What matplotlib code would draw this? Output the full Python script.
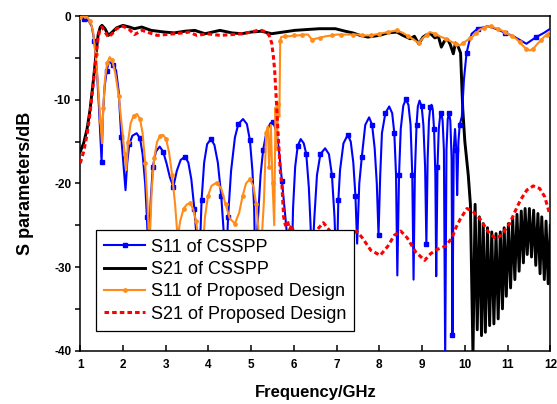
import matplotlib
matplotlib.use("Agg")
import matplotlib.pyplot as plt

plt.rcParams["font.family"] = ["Liberation Sans", "DejaVu Sans"]
plt.rcParams["axes.unicode_minus"] = False

# S11 of CSSPP (blue, squares)
s11_cs_f = [1.0, 1.1, 1.2, 1.27, 1.33, 1.39, 1.44, 1.5, 1.53, 1.57, 1.62, 1.66, 1.7, 1.77, 1.84,
            1.9, 1.96, 2.06, 2.1, 2.15, 2.22, 2.32, 2.4, 2.46, 2.52, 2.56, 2.6, 2.65, 2.7, 2.77,
            2.86, 2.94, 3.02, 3.1, 3.18, 3.26, 3.35, 3.45, 3.53, 3.6, 3.67, 3.73, 3.78, 3.84, 3.9,
            3.97, 4.06, 4.14, 4.22, 4.3, 4.36, 4.4, 4.46, 4.53, 4.62, 4.7, 4.81, 4.9, 4.97, 5.03,
            5.07, 5.1, 5.15, 5.22, 5.28, 5.36, 5.45, 5.52, 5.6, 5.66, 5.72, 5.8, 5.87, 5.94, 5.98,
            6.03, 6.09, 6.16, 6.23, 6.29, 6.35, 6.39, 6.42, 6.48, 6.54, 6.62, 6.73, 6.82, 6.89, 6.95,
            7.0, 7.04, 7.08, 7.16, 7.26, 7.33, 7.39, 7.44, 7.48, 7.53, 7.59, 7.67, 7.76, 7.83, 7.89,
            7.94, 7.98, 8.02, 8.06, 8.14, 8.23, 8.3, 8.35, 8.39, 8.42, 8.46, 8.5, 8.56, 8.62, 8.68,
            8.73, 8.77, 8.8, 8.83, 8.87, 8.9, 8.94, 8.99, 9.03, 9.07, 9.1, 9.13, 9.16, 9.19, 9.22,
            9.25, 9.28, 9.31, 9.33, 9.36, 9.39, 9.42, 9.45, 9.48, 9.51, 9.54, 9.57, 9.6, 9.63, 9.66,
            9.69, 9.71, 9.74, 9.77, 9.8, 9.82, 9.85, 9.88, 9.93, 9.98, 10.04, 10.1, 10.16, 10.3, 10.54,
            10.72, 10.95, 11.17, 11.44, 11.67, 11.85, 12.0]
s11_cs_db = [-0.2, -0.3, -0.6, -1.2, -3.0, -6.5, -11, -17.4, -12, -8.5, -6.5, -5.7, -5.5, -5.8, -6.5,
             -9, -14.4, -20.8, -17.5, -15.3, -14.3, -14.0, -14.6, -16.5, -20, -24, -29, -22, -18, -16.2,
             -15.6, -16.2, -17.6, -19.3, -20.4, -18.5, -17.2, -16.8, -17.5, -19.5, -23, -27, -31, -22, -17.5,
             -15.3, -14.7, -15.4, -17.5, -21.5, -26, -32, -24, -18.5, -14.5, -12.9, -12.3, -12.9, -14.8, -18.5,
             -23, -31, -25, -19, -16, -13.8, -12.8, -12.7, -14, -16.5, -19.7, -24, -28, -32, -23,
             -18, -15.5, -14.7, -15.2, -16.5, -20.5, -25, -30, -24, -19, -16.5, -15.8, -16.5, -19, -24,
             -31, -22, -18.4, -15.2, -14.2, -15, -17.5, -21.5, -27.2, -20, -16.8, -13, -12.1, -13, -15.8,
             -20, -26.2, -19, -14.0, -11.6, -10.8, -11.6, -14, -19, -31, -19, -13.5, -10.7, -9.95, -10.6,
             -13, -19, -31.5, -19, -13, -10.8, -10.1, -10.8, -13, -18, -27.2, -17, -12.5, -10.9, -10.6,
             -11.2, -13.5, -19, -31.1, -18, -13.5, -12, -11.6, -12.5, -16, -41, -16, -12.3, -11.6, -12.5,
             -17, -38.1, -16, -13.5, -16, -21.4, -15, -13, -12, -7.5, -4.4, -3.1, -2.1, -1.5, -1.2,
             -1.5, -2.0, -2.5, -3.3, -2.5, -2.0, -1.5]

# S21 of CSSPP (black)
s21_cs_f = [1.0, 1.08, 1.16, 1.23, 1.29, 1.34, 1.38, 1.42, 1.47, 1.51, 1.58, 1.66, 1.75, 1.85, 2.0,
            2.15, 2.27, 2.44, 2.66, 2.97, 3.2, 3.45, 3.68, 3.92, 4.27, 4.55, 4.78, 5.0, 5.24, 5.48,
            5.75, 6.02, 6.3, 6.6, 6.97, 7.2, 7.38, 7.55, 7.73, 8.0, 8.2, 8.41, 8.55, 8.72, 8.82,
            8.92, 9.02, 9.11, 9.2, 9.3, 9.38, 9.45, 9.52, 9.6, 9.66, 9.73, 9.78, 9.84, 9.9, 9.95,
            10.0, 10.08, 10.13, 10.19,
            10.24, 10.29, 10.34, 10.39, 10.43, 10.48, 10.53, 10.58, 10.63, 10.68, 10.73, 10.78,
            10.83, 10.88, 10.92, 10.97, 11.02, 11.07, 11.12, 11.17, 11.22, 11.27, 11.32, 11.37,
            11.41, 11.46, 11.51, 11.56, 11.61, 11.66, 11.71, 11.76, 11.80, 11.86, 11.90, 11.95, 12.0]
s21_cs_db = [-16.2, -15.2, -13.5, -11.2, -8.5, -6.1, -4.0, -2.2, -1.3, -1.1, -1.5, -2.3, -1.9, -1.4, -1.1,
             -1.3, -1.5, -1.3, -1.7, -1.9, -2.0, -1.8, -1.7, -2.1, -1.7, -2.0, -2.1, -1.9, -1.8, -2.1,
             -1.9, -1.7, -1.6, -1.5, -1.5, -1.8, -2.0, -2.3, -2.5, -2.3, -2.0, -1.9, -2.3, -2.7, -2.4,
             -3.3, -2.5, -2.2, -2.1, -2.6, -2.4, -3.7, -3.0, -2.8, -3.4, -4.5, -3.2, -3.6, -4.4, -11.0,
             -15.0, -19.0, -22.5, -40.5,
             -22.5, -37.5, -24.0, -38.2, -24.8, -37.8, -25.3, -37.0, -25.8, -36.8, -26.0, -36.2,
             -25.8, -35.0, -25.3, -33.5, -24.8, -32.5, -24.2, -31.5, -23.7, -30.5, -23.3, -29.5,
             -23.0, -28.5, -23.0, -28.8, -23.2, -29.8, -23.6, -30.8, -24.0, -31.5, -24.5, -32.0, -25.0]

# S11 of Proposed Design (orange, dots)
s11_pd_f = [1.0, 1.06, 1.12, 1.18, 1.24, 1.3, 1.36, 1.42, 1.47, 1.51, 1.54, 1.58, 1.63, 1.69, 1.75,
            1.82, 1.9, 1.98, 2.04, 2.08, 2.12, 2.18, 2.25, 2.33, 2.4, 2.46, 2.52, 2.57, 2.62, 2.67,
            2.73, 2.8, 2.87, 2.94, 3.01, 3.08, 3.15, 3.22, 3.28, 3.34, 3.42, 3.5, 3.57, 3.64, 3.71,
            3.78, 3.85, 3.92, 3.99, 4.07, 4.19, 4.3, 4.4, 4.5, 4.62, 4.72, 4.8, 4.88, 4.97, 5.05,
            5.12, 5.18, 5.22, 5.3, 5.35, 5.39, 5.42, 5.46, 5.5, 5.54, 5.57, 5.6, 5.63, 5.66, 5.68,
            5.7, 5.8, 5.9, 6.0, 6.1, 6.2, 6.33, 6.42, 6.5, 6.6, 6.75, 6.9, 7.0, 7.1, 7.25,
            7.38, 7.5, 7.6, 7.7, 7.8, 7.9, 8.0, 8.1, 8.2, 8.3, 8.41, 8.55, 8.68, 8.8, 8.92,
            9.02, 9.11, 9.18, 9.3, 9.41, 9.55, 9.7, 9.8, 9.88, 9.96, 10.05, 10.12, 10.19, 10.27, 10.35,
            10.45, 10.54, 10.62, 10.7, 10.78, 10.86, 10.93, 11.0, 11.1, 11.2, 11.28, 11.35, 11.44, 11.52,
            11.6, 11.7, 11.78, 11.85, 11.92, 12.0]
s11_pd_db = [-0.1, 0.0, 0.0, -0.2, -0.6, -1.8, -4.5, -8.5, -12.5, -15.2, -11, -7.5, -5.6, -4.9, -5.3,
             -6.8, -9.5, -13.5, -16.5, -18.4, -15, -12.8, -11.9, -11.7, -12.3, -14, -17.5, -22, -28, -21,
             -17, -15, -14.3, -14.2, -14.7, -16.3, -19, -22.5, -26.5, -24.5, -23, -22.5, -22.4, -23, -24.5,
             -27, -29, -24, -21.5, -20.3, -19.9, -20.6, -22.5, -24.2, -24.8, -23.5, -21.5, -20.0, -19.5, -20.3,
             -22.5, -26, -29, -22, -14, -13.2, -18, -13, -20, -25, -11, -16, -10.5, -12, -3,
             -2.5, -2.4, -2.4, -2.3, -2.3, -2.2, -2.2, -2.8, -2.7, -2.6, -2.4, -2.3, -2.2, -2.2, -2.2,
             -2.2, -2.2, -2.3, -2.3, -2.3, -2.2, -2.1, -2.0, -1.9, -1.8, -1.7, -2.0, -2.4, -2.8, -3.2,
             -2.6, -2.2, -1.9, -2.1, -2.4, -2.7, -3.1, -3.3, -3.5, -3.2, -2.9, -2.6, -2.4, -2.0, -1.6,
             -1.4, -1.2, -1.2, -1.4, -1.5, -1.7, -1.9, -2.1, -2.4, -2.7, -3.1, -3.5, -3.9, -4.1,
             -3.9, -3.3, -2.9, -2.5, -2.2, -1.8]

# S21 of Proposed Design (red, dashed)
s21_pd_f = [1.0, 1.08, 1.16, 1.23, 1.29, 1.34, 1.38, 1.42, 1.47, 1.51, 1.58, 1.66, 1.75, 1.85, 2.0,
            2.15, 2.27, 2.45, 2.62, 2.8, 3.0, 3.2, 3.4, 3.55, 3.73, 3.97, 4.27, 4.55, 4.78, 5.0,
            5.15, 5.24, 5.35, 5.42, 5.48, 5.52, 5.55, 5.58, 5.63, 5.68, 5.72, 5.76, 5.8, 5.85, 5.9,
            5.95, 6.0, 6.15, 6.35, 6.55, 6.69, 6.83, 7.0, 7.2, 7.47, 7.6, 7.8, 8.02, 8.2, 8.35,
            8.5, 8.65, 8.85, 9.06, 9.2, 9.35, 9.55, 9.7, 9.8, 9.9, 10.05, 10.2, 10.35, 10.55, 10.72,
            10.85, 11.05, 11.18, 11.3, 11.45, 11.6, 11.75, 11.87, 11.97]
s21_pd_db = [-17.6, -16.2, -14.2, -11.6, -8.8, -6.4, -4.3, -2.5, -1.5, -1.3, -1.9, -2.5, -2.1, -1.5, -1.2,
             -1.6, -2.2, -1.7, -2.0, -2.3, -2.2, -2.1, -2.0, -1.9, -2.3, -2.1, -2.3, -2.2, -2.1, -1.9,
             -1.7, -1.7, -1.9, -2.3, -3.2, -4.8, -6.5, -9.2, -14, -18.4, -20.2, -24, -25, -24.5, -25.5,
             -25, -26, -27.5, -27, -25.5, -24.7, -25.6, -27, -27, -25.7, -26.5, -28, -28.6, -27.5, -26.2,
             -25.7, -26.5, -28.2, -29.2, -28.4, -27.9, -27.5, -26.5, -25.2, -24.2, -23.0, -23.4, -24.2, -25.8, -26.6,
             -26.2, -24.8, -23.3, -22, -20.8, -20.3, -20.6, -21.6, -23.4]

x_ticks = list(range(1, 13))
y_ticks = [0, -10, -20, -30, -40]
y_minor = [-5, -15, -25, -35]

fig = plt.figure(figsize=(5.57, 4.04), dpi=100)
ax = fig.add_axes([0.144, 0.132, 0.844, 0.828])

ax.plot(s21_cs_f, s21_cs_db, color="black", lw=2.1, label="S21 of CSSPP", zorder=2)
ax.plot(s11_cs_f, s11_cs_db, color="#0000FF", lw=1.5, marker="s", ms=3.2,
        markevery=(1, 3), label="S11 of CSSPP", zorder=3)
ax.plot(s11_pd_f, s11_pd_db, color="#FF8C1A", lw=1.5, marker="o", ms=2.4,
        markevery=2, label="S11 of Proposed Design", zorder=4)
ax.plot(s21_pd_f, s21_pd_db, color="#FF0000", lw=2.2, dashes=(1.5, 1.0),
        label="S21 of Proposed Design", zorder=5)

ax.set_xlim(1, 12)
ax.set_ylim(-40, 0)
ax.set_xticks(x_ticks)
ax.set_xticklabels([str(t) for t in x_ticks], fontweight="bold", fontsize=8.5)
ax.set_yticks(y_ticks)
ax.set_yticklabels([str(t) for t in y_ticks], fontweight="bold", fontsize=8.5)
ax.set_yticks(y_minor, minor=True)
ax.tick_params(axis="x", direction="in", length=4.5, width=1.1, pad=6)
ax.tick_params(axis="y", which="both", direction="out", length=3.5, width=1.1, pad=3)
for sp in ax.spines.values():
    sp.set_linewidth(1.1)

ax.set_xlabel("Frequency/GHz", fontweight="bold", fontsize=12, labelpad=10)
ax.set_ylabel("S parameters/dB", fontweight="bold", fontsize=13, labelpad=14)

handles, labels = ax.get_legend_handles_labels()
order = [1, 0, 2, 3]
leg = ax.legend([handles[i] for i in order], [labels[i] for i in order],
                loc="lower left", bbox_to_anchor=(0.033, 0.059), borderaxespad=0,
                fontsize=13, fancybox=False, framealpha=1, edgecolor="black",
                handlelength=2.3, handletextpad=0.3, labelspacing=0.3, numpoints=1,
                borderpad=0.45)
leg.get_frame().set_linewidth(0.9)
leg.set_zorder(10)

fig.savefig("out.png", dpi=100)
